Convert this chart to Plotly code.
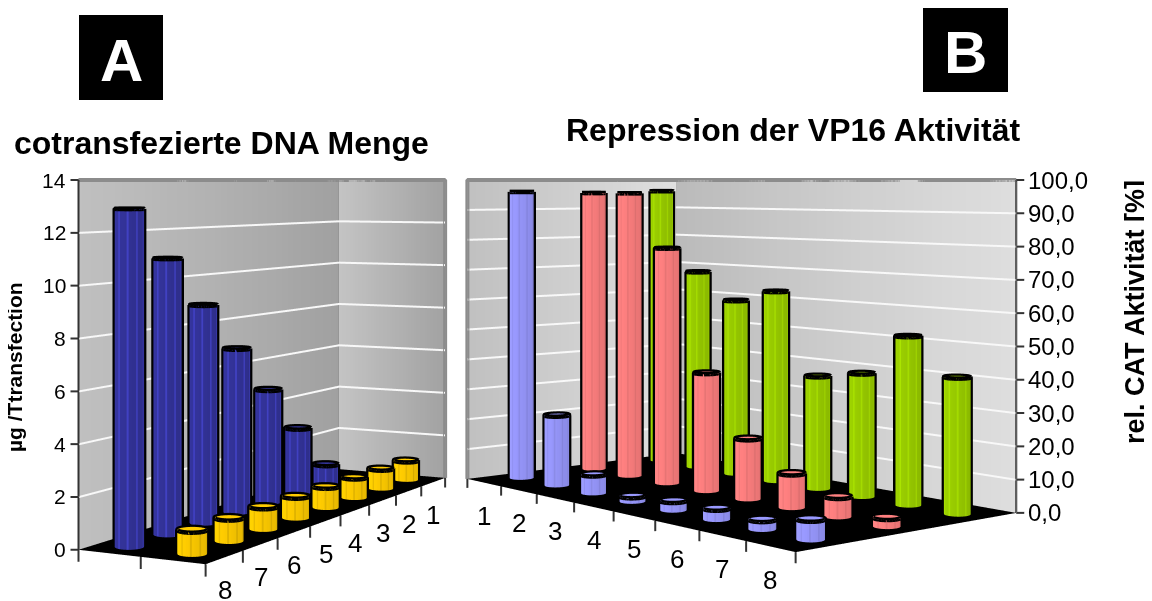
import numpy as np
import plotly.graph_objects as go

W, H_PX = 1144, 593
OFF = 8
cats = [1, 2, 3, 4, 5, 6, 7, 8]
a_blue = [0, 0.9, 2.9, 4.9, 6.9, 8.9, 10.9, 12.9]
a_yellow = [0.9, 0.9, 0.9, 0.9, 0.9, 0.9, 0.9, 0.9]
b_blue = [96, 23, 6, 1.7, 2.9, 3.3, 2.8, 5.7]
b_red = [95.5, 95.5, 77.5, 38, 19, 10.5, 6, 2.6]
b_green = [96, 68, 59, 63, 36.5, 39, 52, 41]
a_ticks = [0, 2, 4, 6, 8, 10, 12, 14]
a_ticktext = ["0", "2", "4", "6", "8", "10", "12", "14"]
b_ticks = [0, 10, 20, 30, 40, 50, 60, 70, 80, 90, 100]
b_ticktext = ["0,0", "10,0", "20,0", "30,0", "40,0", "50,0", "60,0", "70,0", "80,0", "90,0", "100,0"]

HORIZON = 180
DOM_Y = (8, 601)
FOCAL = (DOM_Y[1]-DOM_Y[0])/2/np.tan(np.pi/8)
SHEAR = ((DOM_Y[0]+DOM_Y[1])/2-HORIZON)/FOCAL
FLAT = dict(ambient=1, diffuse=0, specular=0, roughness=1, fresnel=0)
fig = go.Figure()

def css(c):
    return "rgb(%d,%d,%d)" % tuple(int(round(v)) for v in c)

class Chart:
    """Level camera at the origin, looking along +y; the floor is placed from its four picture corners."""
    def __init__(self, name, dom_x, corners, ex_pair, ey_pair, xmid, ymid, zmax, rx, ry, rz):
        self.name, self.dom_x, self.zmax = name, dom_x, zmax
        self.R = (rx, ry, rz)
        x0 = (dom_x[0]+dom_x[1])/2
        C = {k: np.array([(v[0]-x0)/(v[1]-HORIZON), FOCAL/(v[1]-HORIZON)]) for k, v in corners.items()}
        self.c = sum(C.values())/4
        self.ex = ((C[ex_pair[0][0]]-C[ex_pair[0][1]])+(C[ex_pair[1][0]]-C[ex_pair[1][1]]))/2/8
        ny = ey_pair[2]
        self.ey = ((C[ey_pair[0][0]]-C[ey_pair[0][1]])+(C[ey_pair[1][0]]-C[ey_pair[1][1]]))/2/ny
        self.xmid, self.ymid = xmid, ymid
    def f(self, x, y):
        return self.c+(x-self.xmid)*self.ex+(y-self.ymid)*self.ey
    def h(self, q, z):
        return z/self.zmax+SHEAR*q[1]
    def p(self, x, y, z):
        q = self.f(x, y)
        return (q[0], q[1], self.h(q, z))
    def offs(self, x, y, z, px):
        q = self.f(x, y)
        return (q[0]+px*q[1]/FOCAL, q[1], self.h(q, z))

def add_wall(S, p0, p1, c0, c1, n=20):
    xs, ys, zs, vc, i, j, k = [], [], [], [], [], [], []
    for m in range(n+1):
        t = m/n
        x = p0[0]+(p1[0]-p0[0])*t; y = p0[1]+(p1[1]-p0[1])*t
        for z in (0, S.zmax):
            a = S.p(x, y, z)
            xs.append(a[0]); ys.append(a[1]); zs.append(a[2])
            vc.append(css(tuple(c0[q]+(c1[q]-c0[q])*t for q in range(3))))
        if m < n:
            b = 2*m
            i += [b, b+1]; j += [b+1, b+3]; k += [b+2, b+2]
    fig.add_trace(go.Mesh3d(x=xs, y=ys, z=zs, i=i, j=j, k=k, vertexcolor=vc, lighting=FLAT, hoverinfo="skip", scene=S.name, showscale=False))

def add_floor(S, x0, x1, y0, y1):
    pts = [S.p(x0, y0, 0), S.p(x1, y0, 0), S.p(x1, y1, 0), S.p(x0, y1, 0)]
    fig.add_trace(go.Mesh3d(x=[a[0] for a in pts], y=[a[1] for a in pts], z=[a[2] for a in pts], i=[0, 0], j=[1, 2], k=[2, 3], color="#000000", lighting=FLAT, hoverinfo="skip", scene=S.name))

def add_lines(S, segs, color, width):
    xs, ys, zs = [], [], []
    for seg in segs:
        for a in seg:
            xs.append(a[0]); ys.append(a[1]); zs.append(a[2])
        xs.append(None); ys.append(None); zs.append(None)
    fig.add_trace(go.Scatter3d(x=xs, y=ys, z=zs, mode="lines", line=dict(color=color, width=width), hoverinfo="skip", showlegend=False, scene=S.name))

def add_bars(S, xs_, y, vals, color, stripe, rad=0.04, flat=0.4):
    N = 48
    base = tuple(int(color[i:i+2], 16) for i in (1, 3, 5))
    X, Y, Z, I, J, K, FC = [], [], [], [], [], [], []
    segs = []
    for cx, v in zip(xs_, vals):
        if v <= 0:
            continue
        c = S.f(cx, y)
        b0 = len(X)
        ring = []
        for m in range(N):
            th = 2*np.pi*m/N
            q = c+rad*np.array([np.cos(th), flat*np.sin(th)])
            X += [q[0], q[0]]; Y += [q[1], q[1]]; Z += [S.h(q, 0), S.h(q, v)]
            ring.append((q[0], q[1], S.h(q, v)))
        for m in range(N):
            a = b0+2*m; b = b0+2*((m+1) % N)
            I += [a, a+1]; J += [b, b]; K += [a+1, b+1]
            th = 2*np.pi*(m+.5)/N
            shade = 0.97-0.07*np.cos(th)
            if m % 5 == 0:
                shade *= stripe
            col = css(tuple(min(255, q*shade) for q in base))
            FC += [col, col]
        ctr = len(X)
        X.append(c[0]); Y.append(c[1]); Z.append(S.h(c, v))
        for m in range(N):
            I.append(ctr); J.append(b0+2*m+1); K.append(b0+2*((m+1) % N)+1); FC.append(css(base))
        segs.append(ring+[ring[0]])
        for sgn in (1, -1):
            q = c+np.array([sgn*rad, 0])
            segs.append([(q[0], q[1], S.h(q, 0)), (q[0], q[1], S.h(q, v))])
    fig.add_trace(go.Mesh3d(x=X, y=Y, z=Z, i=I, j=J, k=K, facecolor=FC, flatshading=True, lighting=FLAT, hoverinfo="skip", scene=S.name, showscale=False))
    add_lines(S, segs, "#000000", 9)

def scene_layout(S, anns):
    R = S.R
    mid = [(r[0]+r[1])/2 for r in R]
    span = [r[1]-r[0] for r in R]
    e = (0-mid[0], 0-mid[1], 1-mid[2])
    return dict(
        domain=dict(x=[(S.dom_x[0]-OFF)/W, (S.dom_x[1]-OFF)/W], y=[1-(DOM_Y[1]-OFF)/H_PX, 1-(DOM_Y[0]-OFF)/H_PX]),
        xaxis=dict(visible=False, range=R[0]), yaxis=dict(visible=False, range=R[1]), zaxis=dict(visible=False, range=R[2]),
        aspectmode="manual", aspectratio=dict(x=span[0], y=span[1], z=span[2]),
        camera=dict(eye=dict(x=e[0], y=e[1], z=e[2]), center=dict(x=e[0], y=e[1]+1, z=e[2]), up=dict(x=0, y=0, z=1),
                    projection=dict(type="perspective")),
        annotations=anns, bgcolor="rgba(0,0,0,0)", dragmode=False)

def txt(a, s, size, **kw):
    return dict(x=a[0], y=a[1], z=a[2], text=s, showarrow=False, font=dict(family="Liberation Sans", size=size, color="#000000"), **kw)

EDGE = "#8c8c8c"
GRID = "#f8f8f8"
# ---- chart A
SA = Chart("scene", (8, 460), dict(L=(78, 550), F=(206, 564), R=(445, 478), K=(339, 469)),
           (("F", "R"), ("L", "K")), (("F", "L"), ("R", "K"), 2), 4.5, 1.5, 14,
           (-1.2, 1.4), (1.0, 3.2), (-0.3, 2.0))
add_wall(SA, (8.5, .5), (.5, .5), (192, 192, 192), (160, 160, 160))
add_wall(SA, (.5, .5), (.5, 2.5), (196, 196, 196), (162, 162, 162))
add_floor(SA, .5, 8.5, .5, 2.5)
add_lines(SA, [[SA.p(8.5, .51, t), SA.p(.51, .51, t), SA.p(.51, 2.5, t)] for t in a_ticks[1:-1]], GRID, 4)
add_lines(SA, [[SA.p(8.5, .5, 14), SA.p(.5, .5, 14), SA.p(.5, 2.5, 14), SA.p(.5, 2.5, 0)], [SA.p(.5, .5, 0), SA.p(.5, .5, 14)]], EDGE, 8)
ticks = [[SA.p(8.5, .5, 0), SA.p(8.5, .5, 14)]]
ticks += [[SA.p(8.5, .5, t), SA.offs(8.5, .5, t, -8)] for t in a_ticks]
ticks += [[SA.p(xt, 2.5, 0), SA.p(xt, 2.5, -.45)] for xt in np.arange(.5, 9)]
ticks += [[SA.p(8.5, yt, 0), SA.p(8.5, yt, -.45)] for yt in (.5, 1.5, 2.5)]
add_lines(SA, ticks, "#333333", 4)
add_bars(SA, cats, 1, a_blue, "#333399", 1.3)
add_bars(SA, cats, 2, a_yellow, "#FFCC00", 0.9)
anns_a = [txt(SA.offs(8.5, .5, t, -8), s, 21, xanchor="right", yanchor="middle", xshift=-2) for t, s in zip(a_ticks, a_ticktext)]
anns_a += [txt(SA.p(c, 2.5, 0), str(c), 26, xanchor="center", yanchor="middle", yshift=-33) for c in cats]

# ---- chart B
SB = Chart("scene2", (460, 1100), dict(L=(467, 479), F=(796, 552), R=(1016, 513), K=(677, 453)),
           (("F", "L"), ("R", "K")), (("K", "L"), ("R", "F"), 3), 4.5, 2, 100,
           (-1.4, 1.2), (1.0, 3.2), (-0.3, 2.0))
add_wall(SB, (.5, .5), (.5, 3.5), (192, 192, 192), (224, 224, 224))
add_wall(SB, (.5, 3.5), (8.5, 3.5), (186, 186, 186), (222, 222, 222))
add_floor(SB, .5, 8.5, .5, 3.5)
add_lines(SB, [[SB.p(.51, .5, t), SB.p(.51, 3.49, t), SB.p(8.5, 3.49, t)] for t in b_ticks[1:-1]], GRID, 4)
add_lines(SB, [[SB.p(.5, .5, 0), SB.p(.5, .5, 100), SB.p(.5, 3.5, 100), SB.p(8.5, 3.5, 100)], [SB.p(.5, 3.5, 0), SB.p(.5, 3.5, 100)]], EDGE, 8)
ticks = [[SB.p(8.5, 3.5, 0), SB.p(8.5, 3.5, 100)]]
ticks += [[SB.p(8.5, 3.5, t), SB.offs(8.5, 3.5, t, 8)] for t in b_ticks]
ticks += [[SB.p(xt, .5, 0), SB.p(xt, .5, -3)] for xt in np.arange(.5, 9)]
add_lines(SB, ticks, "#333333", 4)
add_bars(SB, cats, 3, b_green, "#99CC00", 1.1)
add_bars(SB, cats, 2, b_red, "#FF8080", 0.93)
add_bars(SB, cats, 1, b_blue, "#9999FF", 0.93)
anns_b = [txt(SB.offs(8.5, 3.5, t, 8), s, 24, xanchor="left", yanchor="middle", xshift=2) for t, s in zip(b_ticks, b_ticktext)]
anns_b += [txt(SB.p(c, .5, 0), str(c), 26, xanchor="center", yanchor="middle", yshift=-33) for c in cats]

def paper(x, y, s, size, bold=True, color="#000000", angle=0):
    t = "<b>%s</b>" % s if bold else s
    return dict(xref="paper", yref="paper", x=(x-OFF)/W, y=1-(y-OFF)/H_PX, text=t, showarrow=False, textangle=angle,
                font=dict(family="Liberation Sans", size=size, color=color), xanchor="center", yanchor="middle")

def box(x0, x1, y0, y1):
    return dict(type="rect", xref="paper", yref="paper", x0=(x0-OFF)/W, x1=(x1-OFF)/W, y0=1-(y1-OFF)/H_PX, y1=1-(y0-OFF)/H_PX, fillcolor="#000000", line_width=0)

fig.update_layout(
    width=W, height=H_PX, margin=dict(l=0, r=0, t=0, b=0), paper_bgcolor="#ffffff", showlegend=False,
    scene=scene_layout(SA, anns_a),
    scene2=scene_layout(SB, anns_b),
    shapes=[box(79, 163, 15, 100), box(923, 1008, 8, 92)],
    annotations=[
        paper(121, 60, "A", 60, color="#ffffff"), paper(965, 52, "B", 60, color="#ffffff"),
        paper(221, 143, "cotransfezierte DNA Menge", 32), paper(793, 130, "Repression der VP16 Aktivität", 32),
        paper(14, 367, "µg /Ttransfection", 21, angle=-90), paper(1135, 312, "rel. CAT Aktivität [%]", 27, angle=-90),
    ])
fig.write_html("out.html", config=dict(displayModeBar=False))
